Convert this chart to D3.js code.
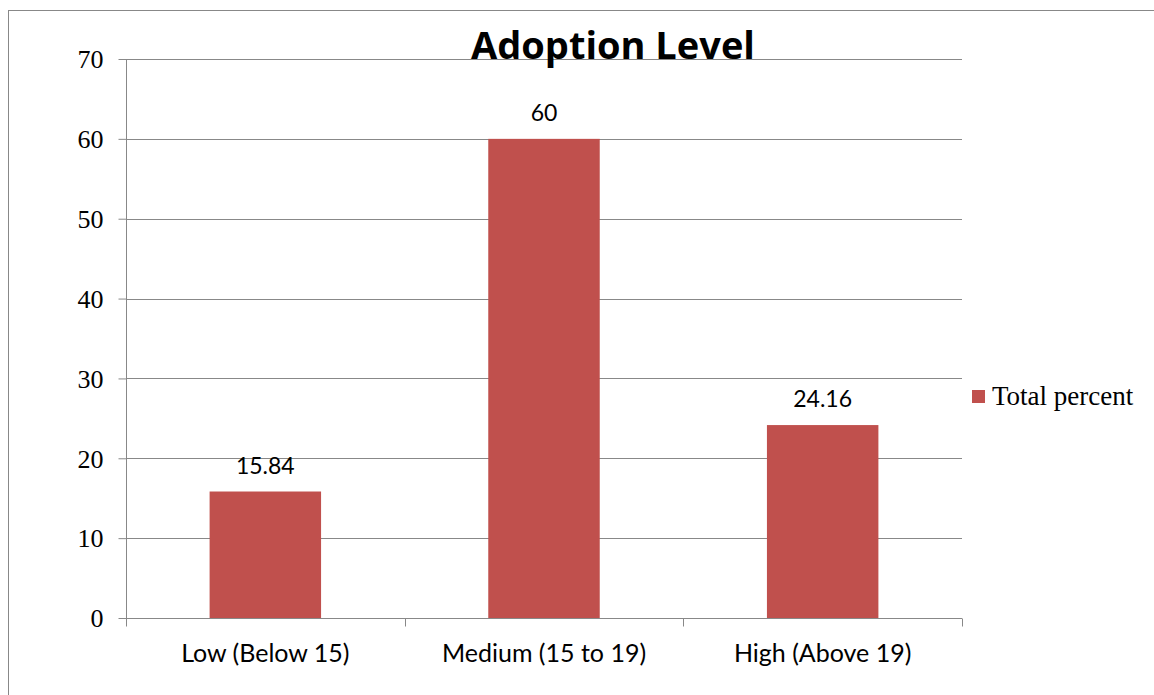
<!DOCTYPE html>
<html>
<head>
<meta charset="utf-8">
<script src="https://cdn.jsdelivr.net/npm/d3@7"></script>
<style>
  body { margin: 0; background: #fff; }
  svg { display: block; }
</style>
</head>
<body>
<svg id="chart"></svg>
<script>
const categories = ['Low (Below 15)', 'Medium (15 to 19)', 'High (Above 19)'];
const totalPercent = [15.84, 60, 24.16];
const dataLabels = ['15.84', '60', '24.16'];
const yTicks = [0, 10, 20, 30, 40, 50, 60, 70];
const seriesName = 'Total percent';
const chartTitle = 'Adoption Level';

const width = 1154,
	height = 695,
	margin = {left: 126, right: 192, top: 59, bottom: 77},
	barColor = '#C0504D',
	lineColor = '#888888',
	sansFont = 'Lato, sans-serif',
	serifFont = 'Liberation Serif, serif';

const svg = d3.select('svg#chart')
	.attr('width', width)
	.attr('height', height);

// outer frame (runs off the right and bottom)
svg.append('rect')
	.attr('x', 8.5)
	.attr('y', 10.5)
	.attr('width', width + 10)
	.attr('height', height + 10)
	.style('fill', 'none')
	.style('stroke', lineColor)
	.style('stroke-width', 1);

const x = d3.scaleBand()
	.domain(categories)
	.range([margin.left, width - margin.right])
	.paddingInner(0.6)
	.paddingOuter(0.3);

const y = d3.scaleLinear()
	.domain([0, 70])
	.range([height - margin.bottom, margin.top]);

// gridlines
svg.append('g')
	.selectAll('line')
	.data(yTicks.filter(d => d > 0))
	.join('line')
	.attr('x1', margin.left)
	.attr('x2', width - margin.right)
	.attr('y1', d => Math.round(y(d)) + 0.5)
	.attr('y2', d => Math.round(y(d)) + 0.5)
	.style('stroke', lineColor)
	.style('stroke-width', 1);

// bars
svg.append('g')
	.selectAll('rect')
	.data(totalPercent)
	.join('rect')
	.attr('x', (d, i) => x(categories[i]))
	.attr('width', x.bandwidth())
	.attr('y', d => y(d))
	.attr('height', d => y(0) - y(d))
	.style('fill', barColor);

// data labels
svg.append('g')
	.selectAll('text')
	.data(totalPercent)
	.join('text')
	.attr('x', (d, i) => x(categories[i]) + x.bandwidth() / 2)
	.attr('y', d => y(d) - 18)
	.attr('text-anchor', 'middle')
	.style('font-family', sansFont)
	.style('font-size', '23px')
	.style('fill', '#000')
	.text((d, i) => dataLabels[i]);

// y axis
const yAxis = svg.append('g')
	.attr('transform', `translate(${margin.left + 0.5},0)`)
	.call(d3.axisLeft(y).tickValues(yTicks).tickSize(8).tickPadding(15));
yAxis.selectAll('path, line').style('stroke', lineColor);
yAxis.select('.domain').attr('d', `M0,${y(0)}V${y(70)}`);
yAxis.selectAll('text')
	.attr('dy', '0.34em')
	.style('font-family', serifFont)
	.style('font-size', '26px')
	.style('fill', '#000');

// x axis with ticks between categories
const boundaries = d3.range(categories.length + 1).map(i => margin.left + i * (width - margin.right - margin.left) / categories.length);
const xAxis = svg.append('g')
	.attr('transform', `translate(0,${Math.round(y(0)) + 0.5})`);
xAxis.append('line')
	.attr('x1', margin.left)
	.attr('x2', width - margin.right)
	.style('stroke', lineColor);
xAxis.selectAll('line.tick')
	.data(boundaries)
	.join('line')
	.classed('tick', true)
	.attr('x1', d => Math.round(d) + 0.5)
	.attr('x2', d => Math.round(d) + 0.5)
	.attr('y1', 0)
	.attr('y2', 8)
	.style('stroke', lineColor);
xAxis.selectAll('text')
	.data(categories)
	.join('text')
	.attr('x', d => x(d) + x.bandwidth() / 2)
	.attr('y', 43)
	.attr('text-anchor', 'middle')
	.style('font-family', sansFont)
	.style('font-size', '25px')
	.style('fill', '#000')
	.text(d => d);

// title
svg.append('text')
	.attr('x', 613)
	.attr('y', 59)
	.attr('text-anchor', 'middle')
	.style('font-family', 'Open Sans, sans-serif')
	.style('font-weight', 'bold')
	.style('font-size', '38px')
	.style('fill', '#000')
	.text(chartTitle);

// legend
const legend = svg.append('g')
	.attr('transform', 'translate(972,390)');
legend.append('rect')
	.attr('width', 13)
	.attr('height', 13)
	.style('fill', barColor);
legend.append('text')
	.attr('x', 20)
	.attr('y', 15)
	.style('font-family', serifFont)
	.style('font-size', '27px')
	.style('fill', '#000')
	.text(seriesName);
</script>
</body>
</html>
